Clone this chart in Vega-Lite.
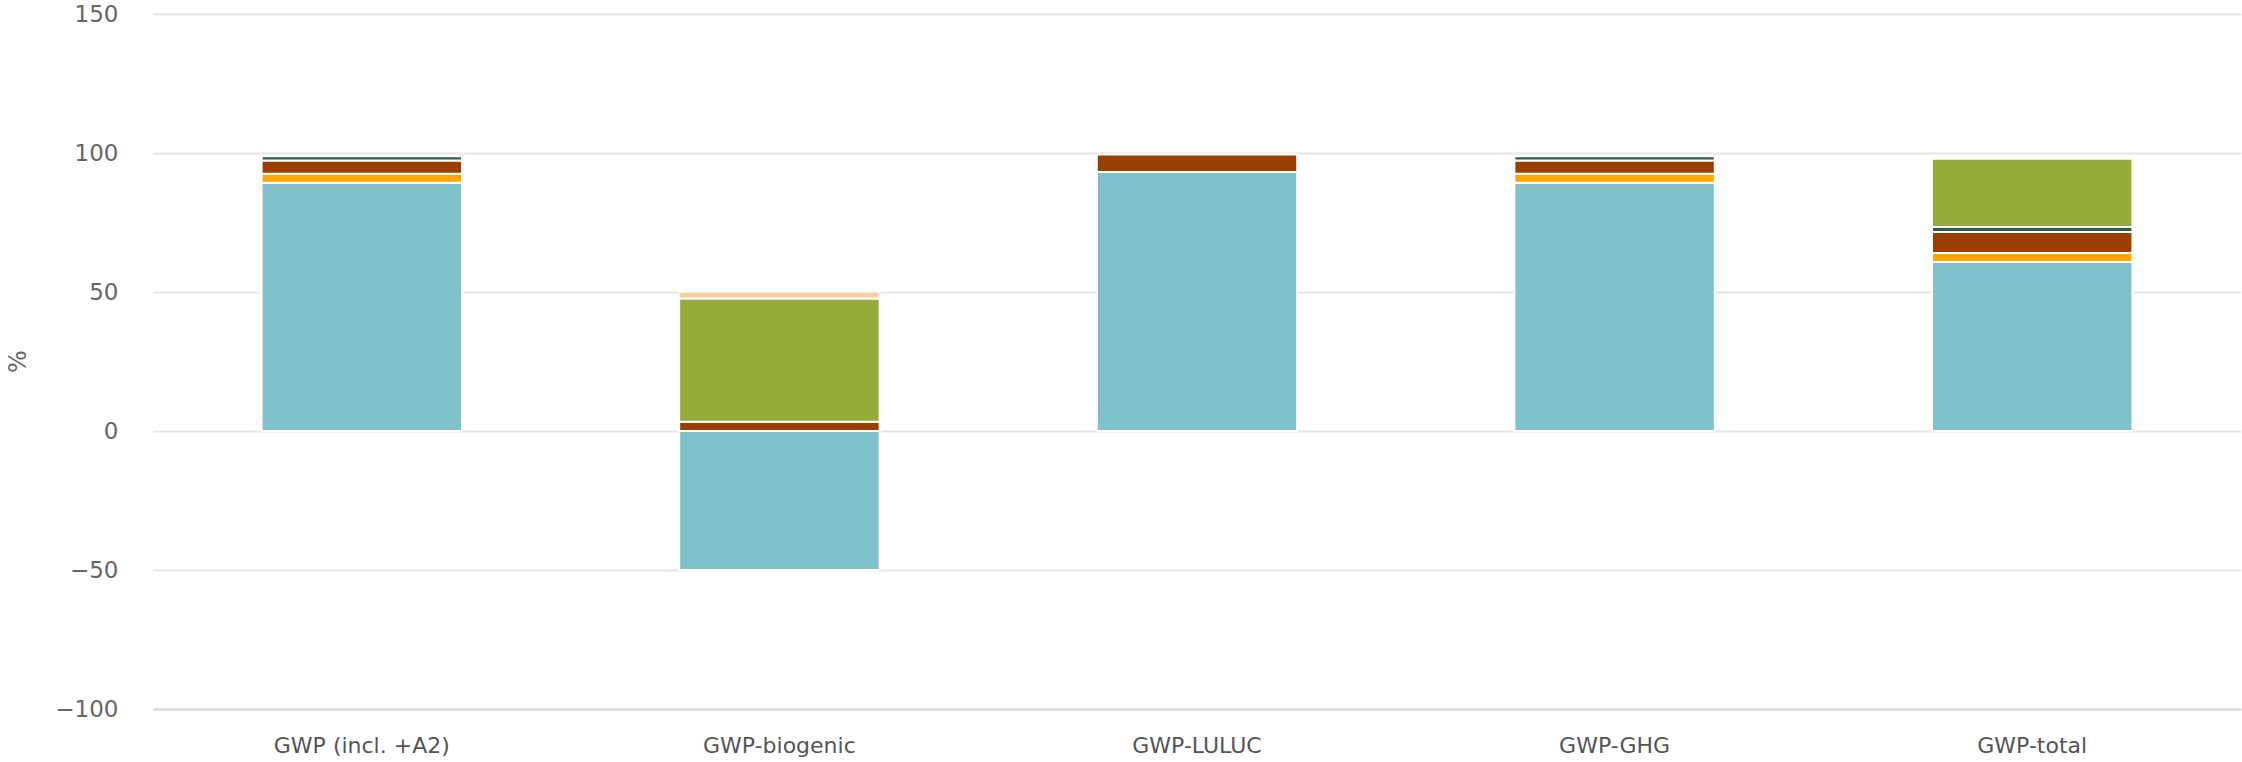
{
  "$schema": "https://vega.github.io/schema/vega-lite/v6.json",
  "width": 2088,
  "height": 695,
  "autosize": {"type": "none"},
  "padding": {"left": 153, "top": 14, "right": 1, "bottom": 53},
  "background": "white",
  "config": {"view": {"stroke": null}},
  "data": {
    "values": [
      {"category": "GWP (incl. +A2)", "series": "A1", "order": 1, "value": 89.3},
      {"category": "GWP (incl. +A2)", "series": "A2", "order": 2, "value": 3.2},
      {"category": "GWP (incl. +A2)", "series": "A3", "order": 3, "value": 4.8},
      {"category": "GWP (incl. +A2)", "series": "A4", "order": 4, "value": 1.5},
      {"category": "GWP-biogenic", "series": "A1", "order": 1, "value": -50.0},
      {"category": "GWP-biogenic", "series": "A3", "order": 3, "value": 3.3},
      {"category": "GWP-biogenic", "series": "A5", "order": 5, "value": 44.4},
      {"category": "GWP-biogenic", "series": "C1", "order": 6, "value": 2.4},
      {"category": "GWP-LULUC", "series": "A1", "order": 1, "value": 93.2},
      {"category": "GWP-LULUC", "series": "A3", "order": 3, "value": 6.3},
      {"category": "GWP-GHG", "series": "A1", "order": 1, "value": 89.3},
      {"category": "GWP-GHG", "series": "A2", "order": 2, "value": 3.2},
      {"category": "GWP-GHG", "series": "A3", "order": 3, "value": 4.8},
      {"category": "GWP-GHG", "series": "A4", "order": 4, "value": 1.5},
      {"category": "GWP-total", "series": "A1", "order": 1, "value": 60.8},
      {"category": "GWP-total", "series": "A2", "order": 2, "value": 3.2},
      {"category": "GWP-total", "series": "A3", "order": 3, "value": 7.6},
      {"category": "GWP-total", "series": "A4", "order": 4, "value": 1.8},
      {"category": "GWP-total", "series": "A5", "order": 5, "value": 24.5}
    ]
  },
  "mark": {"type": "bar", "stroke": "white", "strokeWidth": 2},
  "encoding": {
    "x": {
      "field": "category",
      "type": "nominal",
      "sort": ["GWP (incl. +A2)", "GWP-biogenic", "GWP-LULUC", "GWP-GHG", "GWP-total"],
      "scale": {"paddingInner": 0.52, "paddingOuter": 0.26},
      "axis": {
        "title": null,
        "labelAngle": 0,
        "labelFont": "DejaVu Sans",
        "labelFontSize": 22,
        "labelLimit": 400,
        "labelColor": "#555555",
        "labelPadding": 26,
        "ticks": false,
        "domainColor": "#ccd6eb",
        "domainWidth": 2,
        "grid": false
      }
    },
    "y": {
      "field": "value",
      "type": "quantitative",
      "stack": "zero",
      "scale": {"domain": [-100, 150], "nice": false, "zero": true},
      "axis": {
        "title": "%",
        "titleFont": "DejaVu Sans",
        "titleFontSize": 24,
        "titleFontWeight": "normal",
        "titleColor": "#666666",
        "titleX": -135,
        "titleY": 347,
        "titleBaseline": "middle",
        "titleAlign": "center",
        "titleAngle": -90,
        "values": [-100, -50, 0, 50, 100, 150],
        "labelFont": "DejaVu Sans",
        "labelFontSize": 23,
        "labelColor": "#666666",
        "labelPadding": 35,
        "ticks": false,
        "domain": false,
        "grid": true,
        "gridColor": "#e6e6e6",
        "gridWidth": 2
      }
    },
    "color": {
      "field": "series",
      "type": "nominal",
      "scale": {
        "domain": ["A1", "A2", "A3", "A4", "A5", "C1"],
        "range": ["#7fc2cb", "#ffa500", "#994000", "#2e5b4c", "#95ac3a", "#ffcc99"]
      },
      "legend": null
    },
    "order": {"field": "order", "type": "quantitative"}
  }
}
